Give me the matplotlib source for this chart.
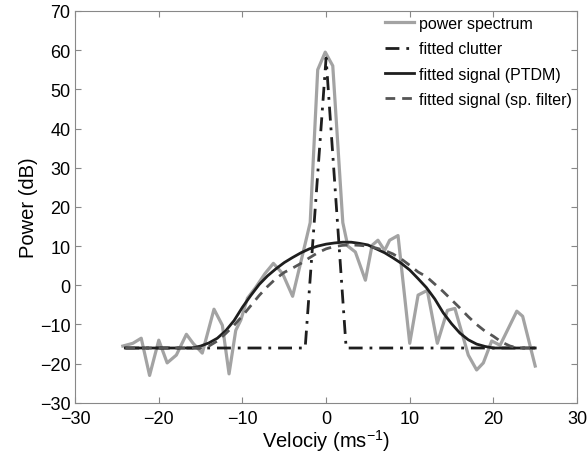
import numpy as np
import matplotlib.pyplot as plt

plt.rcParams['font.family'] = ['Liberation Sans', 'DejaVu Sans']
plt.rcParams['mathtext.default'] = 'regular'

spec_v = [-24.3, -23.1, -22.1, -21.1, -20.0, -19.0, -17.9, -16.7, -15.9, -14.8,
          -13.4, -12.4, -11.6, -10.8, -10.2, -9.4, -8.4, -7.3, -6.3, -5.2,
          -4.0, -2.9, -1.9, -1.0, -0.1, 0.8, 2.0, 2.6, 3.5, 4.7,
          5.5, 6.2, 7.0, 7.6, 8.6, 10.0, 11.0, 12.1, 13.3, 14.5,
          15.4, 17.0, 18.0, 18.8, 19.8, 20.8, 22.8, 23.5, 25.0]
spec_p = [-15.5, -14.8, -13.5, -23.0, -14.0, -19.8, -17.8, -12.5, -14.8, -17.3,
          -6.1, -10.2, -22.6, -11.5, -8.9, -3.3, -0.5, 3.0, 5.6, 3.0,
          -2.8, 7.0, 16.0, 55.0, 59.5, 56.0, 16.0, 10.0, 8.5, 1.3,
          10.2, 11.5, 8.9, 11.5, 12.7, -14.8, -2.5, -1.3, -14.8, -6.4,
          -5.9, -17.8, -21.6, -19.8, -14.2, -15.3, -6.6, -7.9, -20.6]

# fitted clutter
clut_v = [-24, -2.5, 0.0, 2.4, 25]
clut_p = [-16, -16, 58, -16, -16]

# fitted signal curves, sampled every 1 m/s
fit_v = list(range(-24, 26))
ptdm_p = [-16, -16, -16, -16, -16, -16, -16, -16, -16, -15.5,
          -14.7, -13.5, -11.6, -9.0, -5.6, -2.6, 0.2, 2.4, 4.2, 5.8,
          7.1, 8.3, 9.3, 10.0, 10.5, 10.8, 11.0, 11.0, 10.7, 10.3,
          9.3, 8.3, 7.0, 5.6, 3.9, 1.7, -0.6, -3.5, -7.0, -9.8,
          -12.2, -13.9, -15.0, -15.6, -16, -16, -16, -16, -16, -16]
filt_p = [-16, -16, -16, -16, -16, -16, -16, -16, -16, -16,
          -15.5, -14.2, -12.3, -10.2, -7.8, -5.2, -2.6, -0.3, 1.7, 3.3,
          4.4, 5.6, 7.0, 8.3, 9.3, 9.9, 10.2, 10.3, 10.2, 10.0,
          9.5, 8.9, 8.0, 6.7, 5.1, 3.4, 2.2, 0.3, -1.6, -3.7,
          -5.8, -8.0, -10.0, -11.7, -13.0, -14.5, -15.5, -16, -16, -16]

fig = plt.figure(figsize=(5.87, 4.6), dpi=100)
ax = fig.add_axes([0.128, 0.122, 0.855, 0.852])

ax.plot(spec_v, spec_p, color='#a3a3a3', lw=2.3, label='power spectrum')
ax.plot(clut_v, clut_p, color='#1e1e1e', lw=2.0, ls=(0, (5, 2.5, 1, 2.5)), label='fitted clutter')
ax.plot(fit_v, ptdm_p, color='#1e1e1e', lw=2.0, label='fitted signal (PTDM)')
ax.plot(fit_v, filt_p, color='#555555', lw=2.0, ls=(0, (3.5, 2.5)), label='fitted signal (sp. filter)')

ax.set_xlim(-30, 30)
ax.set_ylim(-30, 70)
ax.set_xticks(range(-30, 31, 10))
ax.set_yticks(range(-30, 71, 10))
ax.set_xticklabels(['\u221230', '\u221220', '\u221210', '0', '10', '20', '30'])
ax.set_yticklabels(['\u221230', '\u221220', '\u221210', '0', '10', '20', '30', '40', '50', '60', '70'])
ax.tick_params(direction='in', top=True, right=True, labelsize=13, length=4, color='#888888')
ax.tick_params(axis='x', pad=5)
for s in ax.spines.values():
    s.set_color('#888888')
ax.set_xlabel('Velociy (ms$^{-1}$)', fontsize=14.5, labelpad=0)
ax.set_ylabel('Power (dB)', fontsize=14.5, labelpad=1)

ax.legend(loc='upper right', frameon=False, fontsize=11.5, handlelength=1.8,
          handletextpad=0.35, labelspacing=0.65, borderaxespad=0.0, borderpad=0.3)

fig.savefig('out.png', dpi=100)
